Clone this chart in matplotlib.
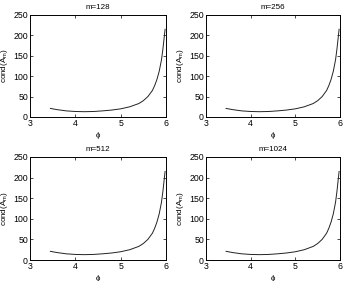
import matplotlib
matplotlib.use("Agg")
import matplotlib.pyplot as plt

plt.rcParams['font.family'] = ['Liberation Sans', 'DejaVu Sans']
plt.rcParams['font.size'] = 6
plt.rcParams['mathtext.fontset'] = 'custom'
plt.rcParams['mathtext.rm'] = 'Liberation Sans'
plt.rcParams['mathtext.it'] = 'Liberation Sans'

titles = ["m=128", "m=256", "m=512", "m=1024"]
phi = [3.45, 3.6, 3.8, 4.0, 4.2, 4.4, 4.6, 4.8, 5.0, 5.2, 5.4, 5.5, 5.6, 5.7,
       5.75, 5.8, 5.85, 5.9, 5.93, 5.96, 5.98]
cond = [21, 18, 15, 13.5, 13, 13.5, 15, 17, 20, 25, 33, 40, 50, 65,
        77, 92, 112, 140, 165, 195, 215]
xticks = [3, 4, 5, 6]
yticks = [0, 50, 100, 150, 200, 250]

W, H = 345, 281
fig = plt.figure(figsize=(W / 100, H / 100), dpi=100)
boxes = [(30, 15, 166, 117), (206, 15, 340, 117), (30, 157, 166, 260), (206, 157, 340, 260)]
for (l, t, r, b), title in zip(boxes, titles):
    ax = fig.add_axes([l / W, 1 - b / H, (r - l) / W, (b - t) / H])
    ax.plot(phi, cond, color='#222222', lw=0.7)
    ax.set_xlim(3, 6)
    ax.set_ylim(0, 250)
    ax.set_xticks(xticks)
    ax.set_yticks(yticks)
    ax.tick_params(direction='in', length=2, width=0.5, top=True, right=True, pad=1.5, labelsize=6.3)
    for s in ax.spines.values():
        s.set_linewidth(0.7)
    ax.set_title(title, fontsize=5.8, pad=4)
    ax.set_xlabel("\u03d5", fontsize=5.8, labelpad=3)
    ax.set_ylabel(r"cond(A$_{\mathrm{m}}$)", fontsize=5.8, labelpad=2)

fig.savefig("out.png", dpi=100)
